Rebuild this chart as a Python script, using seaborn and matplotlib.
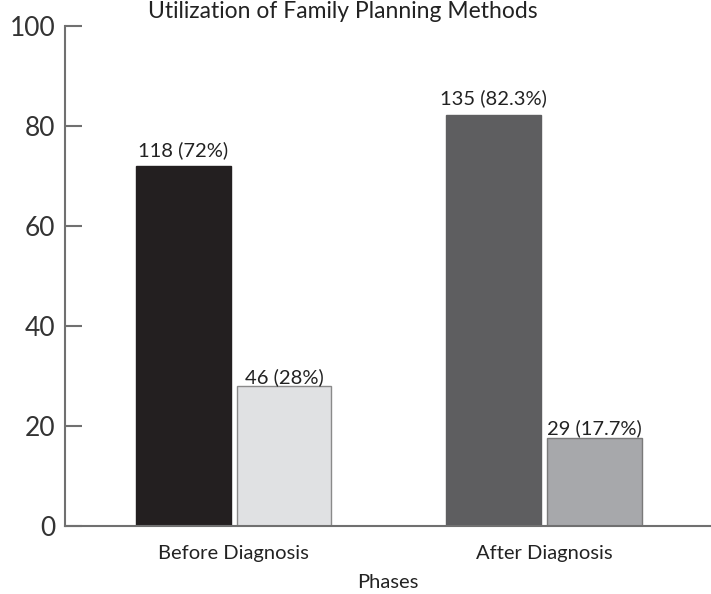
import matplotlib
matplotlib.use("Agg")
import matplotlib.pyplot as plt
import seaborn as sns
import pandas as pd

phases = ["Before Diagnosis", "After Diagnosis"]
statuses = ["Used", "Not used"]
used_pct = [72.0, 82.3]
notused_pct = [28.0, 17.7]
used_labels = ["118 (72%)", "135 (82.3%)"]
notused_labels = ["46 (28%)", "29 (17.7%)"]
y_ticks = [0, 20, 40, 60, 80, 100]

df = pd.DataFrame({
    "Phase": phases * 2,
    "Status": [statuses[0]] * 2 + [statuses[1]] * 2,
    "Percent": used_pct + notused_pct,
})

sns.set_theme(style="white")
plt.rcParams["font.family"] = ["Lato", "DejaVu Sans"]

fig = plt.figure(figsize=(7.11, 5.94), dpi=100)
ax = fig.add_axes([65 / 711, 68 / 594, 1 - 65 / 711, (526 - 26) / 594])

sns.barplot(data=df, x="Phase", y="Percent", hue="Status", order=phases,
            hue_order=statuses, width=0.65, gap=0.06, ax=ax, legend=False,
            palette=["#231f20", "#e0e1e3"], saturation=1)

fills = [["#231f20", "#5e5e60"], ["#e0e1e3", "#a7a8ab"]]
edges = [["#231f20", "#5e5e60"], ["#8a8a8a", "#7a7a7a"]]
labels = [used_labels, notused_labels]
pads = [5, 0]
for ci, cont in enumerate(ax.containers):
    for bi, bar in enumerate(cont):
        bar.set_facecolor(fills[ci][bi])
        bar.set_edgecolor(edges[ci][bi])
        bar.set_linewidth(1.0)
    ax.bar_label(cont, labels=labels[ci], padding=pads[ci], fontsize=14.5,
                 color="#222222")

ax.set_xlim(-0.543, 1.538)
ax.set_ylim(0, 100)
ax.set_yticks(y_ticks)
ax.set_yticklabels([str(t) for t in y_ticks])
sns.despine(ax=ax, top=True, right=True)
for s in ["left", "bottom"]:
    ax.spines[s].set_color("#707070")
    ax.spines[s].set_linewidth(1.5)
ax.tick_params(axis="y", direction="in", length=12, width=1.5, color="#707070",
               labelsize=19, labelcolor="#333333", pad=7, left=True)
ax.tick_params(axis="x", length=0, labelsize=14.5, labelcolor="#222222", pad=14)
ax.set_xlabel("Phases", fontsize=14.5, color="#222222", labelpad=8)
ax.set_ylabel("")

fig.text(343 / 711, 1 - 11 / 594, "Utilization of Family Planning Methods",
         ha="center", va="center", fontsize=16.5, color="#222222")

fig.savefig("out.png", dpi=100)
